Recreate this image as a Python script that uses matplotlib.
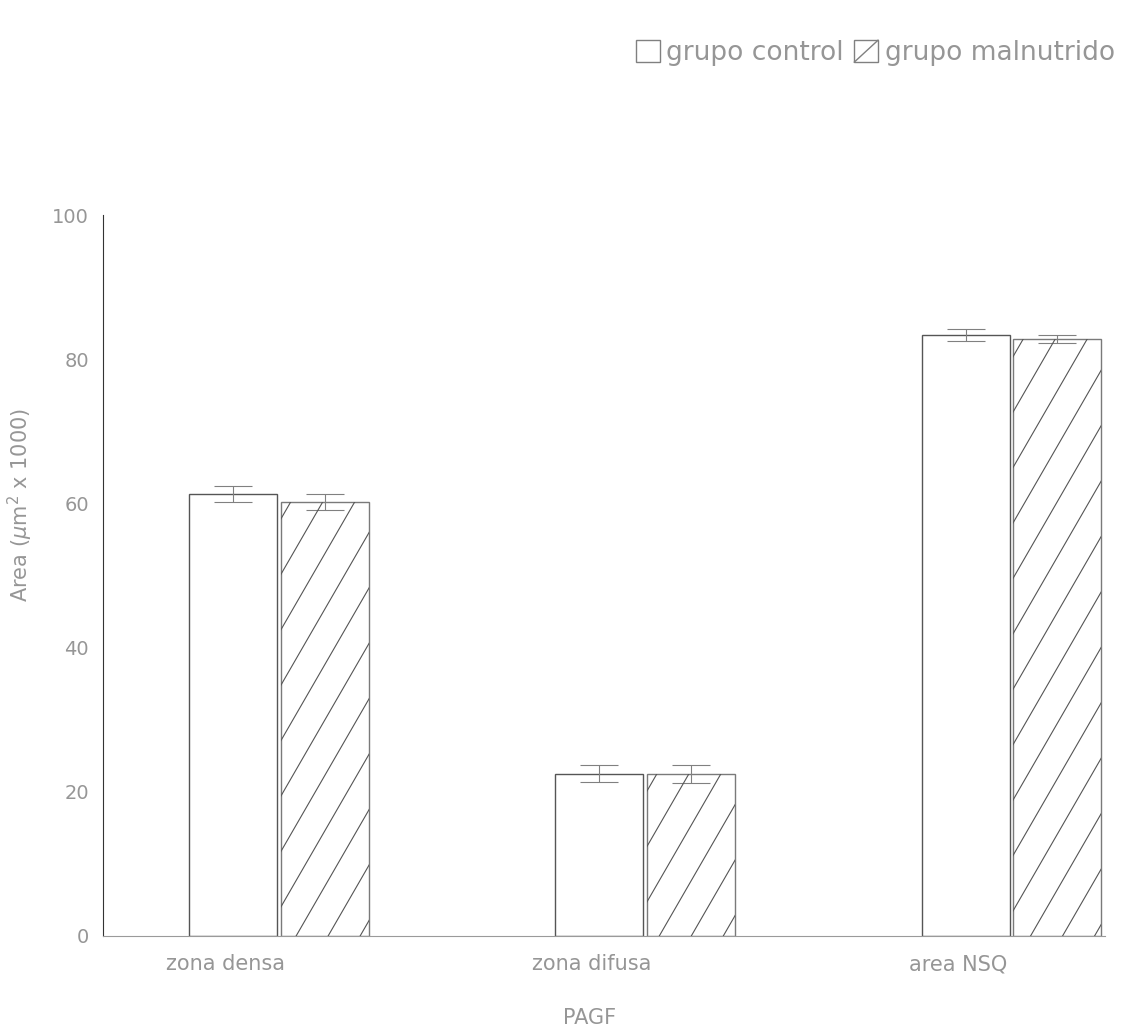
import matplotlib
matplotlib.use("Agg")
import matplotlib.pyplot as plt
from matplotlib.patches import Patch, Rectangle
from matplotlib.lines import Line2D
from matplotlib.transforms import IdentityTransform
from matplotlib.legend_handler import HandlerBase
import numpy as np

categories = ["zona densa", "zona difusa", "area NSQ"]
control = [61.3, 22.5, 83.4]
control_err = [1.1, 1.2, 0.8]
malnutrido = [60.2, 22.5, 82.8]
malnutrido_err = [1.05, 1.25, 0.5]
yticks = [0, 20, 40, 60, 80, 100]

grey = "#969696"
fs = 15
fig = plt.figure(figsize=(11.25, 10.29), dpi=100)
ax = fig.add_axes([0.0916, 0.0904, 0.8904, 0.7006])

x = np.arange(len(categories))
w = 0.24
off = 0.125
ax.set_xlim(-0.48, 2.255)
ax.set_ylim(0, 100)

ax.bar(x - off, control, w, color="white", edgecolor="#555555", linewidth=1.0, zorder=2)
mal_bars = ax.bar(x + off, malnutrido, w, color="white", edgecolor="#7a7a7a",
                  linewidth=1.0, zorder=2)
ax.errorbar(x - off, control, yerr=control_err, fmt="none", ecolor="#808080",
            elinewidth=0.8, capsize=14, capthick=0.8, zorder=4)
ax.errorbar(x + off, malnutrido, yerr=malnutrido_err, fmt="none", ecolor="#808080",
            elinewidth=0.8, capsize=14, capthick=0.8, zorder=4)

# custom steep hatch drawn in pixel space, clipped to each bar
angle = np.deg2rad(60)
spacing = 32.0
for patch in mal_bars:
    (x0, y0) = ax.transData.transform((patch.get_x(), patch.get_y()))
    (x1, y1) = ax.transData.transform((patch.get_x() + patch.get_width(),
                                       patch.get_y() + patch.get_height()))
    h = y1 - y0
    run = h / np.tan(angle)
    starts = np.arange(x0 - run, x1 + spacing, spacing) + 10
    for s in starts:
        ln = Line2D([s, s + run], [y0, y1], transform=IdentityTransform(),
                    color="#555555", linewidth=0.8, zorder=3)
        ln.set_clip_path(patch)
        fig.add_artist(ln)

ax.set_yticks(yticks)
ax.set_yticklabels([str(v) for v in yticks], color=grey, fontsize=14)
ax.set_xticks(x - 0.145)
ax.set_xticklabels(categories, color=grey, fontsize=fs)
ax.tick_params(axis="both", length=0)
ax.tick_params(axis="x", pad=13)
ax.tick_params(axis="y", pad=10)
for s in ["top", "right"]:
    ax.spines[s].set_visible(False)
ax.spines["left"].set_color("#333333")
ax.spines["bottom"].set_color("#9a9a9a")
ax.set_ylabel("Area ($\\mu$m$^2$ x 1000)", color=grey, fontsize=fs, va="center")
ax.yaxis.set_label_coords(-0.083, 0.598)
ax.set_xlabel("PAGF", color=grey, fontsize=fs, va="center")
ax.xaxis.set_label_coords(0.486, -0.114)


class HatchHandler(HandlerBase):
    def create_artists(self, legend, orig_handle, xdescent, ydescent, width,
                       height, fontsize, trans):
        r = Rectangle((-xdescent, -ydescent), width, height, facecolor="white",
                      edgecolor="#808080", linewidth=1.0, transform=trans)
        artists = [r]
        if orig_handle.get_hatch():
            l = Line2D([-xdescent, -xdescent + width],
                       [-ydescent, -ydescent + height], color="#808080",
                       linewidth=1.0, transform=trans)
            artists.append(l)
        return artists


handles = [Patch(facecolor="white", edgecolor="#808080", label="grupo control"),
           Patch(facecolor="white", edgecolor="#808080", hatch="/", label="grupo malnutrido")]
fig.legend(handles=handles, loc="upper right", bbox_to_anchor=(1.012, 0.984), ncol=2,
           frameon=False, fontsize=19, handlelength=0.9, handleheight=0.9,
           handletextpad=0.25, columnspacing=0.4, labelcolor=grey,
           handler_map={Patch: HatchHandler()})

fig.savefig("out.png", dpi=100)
